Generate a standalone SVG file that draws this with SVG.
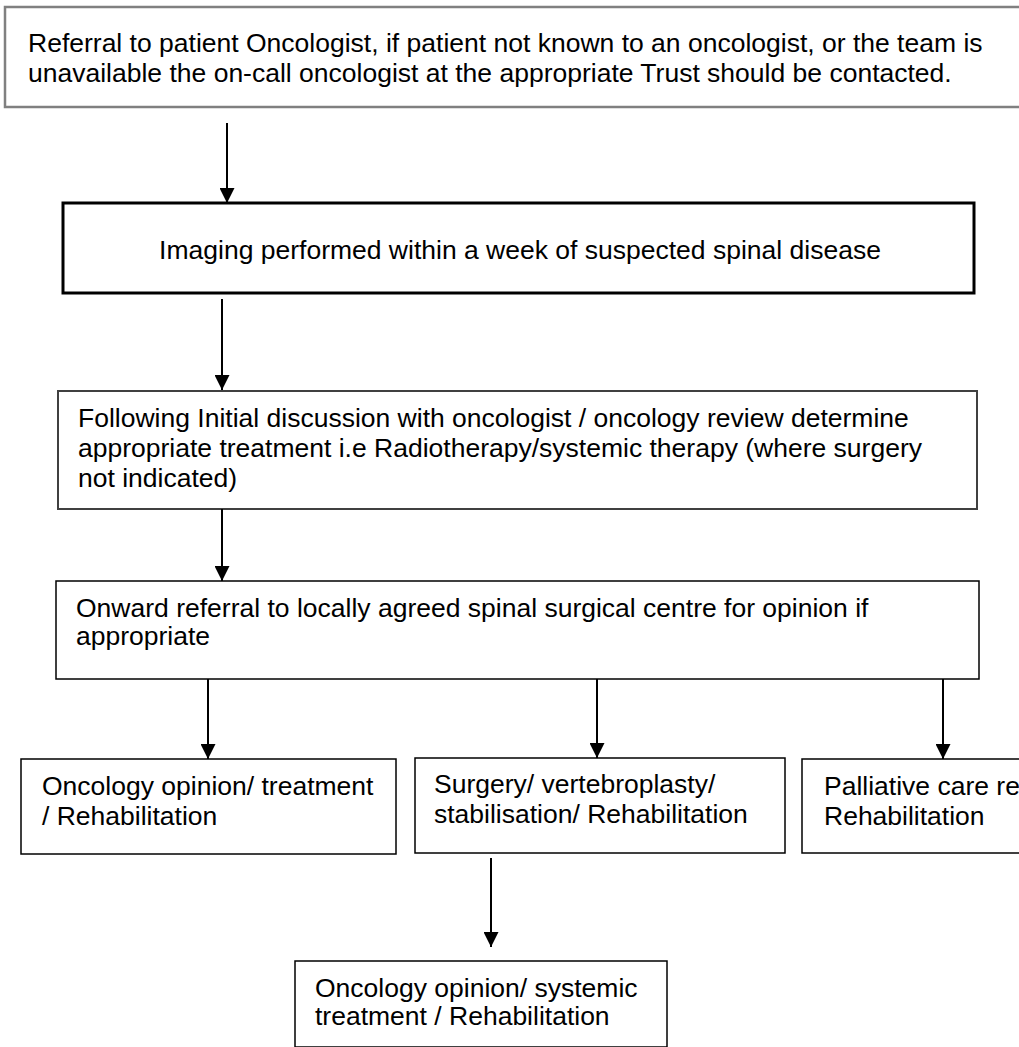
<svg xmlns="http://www.w3.org/2000/svg" width="1019" height="1047" viewBox="0 0 1019 1047">
<defs>
<style>
text{font-family:"Liberation Sans",Arial,sans-serif;font-size:26.5px;fill:#000}
.box{fill:#fff;stroke:#000;stroke-width:1.5}
.conn line{stroke:#000;stroke-width:2}
</style>
<marker id="ah" markerWidth="15" markerHeight="15" refX="15" refY="7.5" orient="auto" markerUnits="userSpaceOnUse">
<path d="M0,0 L15,7.5 L0,15 Z" fill="#000"/>
</marker>
</defs>
<rect width="1019" height="1047" fill="#fff"/>
<g id="n1">
<rect x="5" y="7" width="1030" height="100" fill="#fff" stroke="#808080" stroke-width="2.5"/>
<text x="28" y="52">Referral to patient Oncologist, if patient not known to an oncologist, or the team is</text>
<text x="28" y="82">unavailable the on-call oncologist at the appropriate Trust should be contacted.</text>
</g>
<g id="n2">
<rect x="63" y="203" width="911" height="90" fill="#fff" stroke="#000" stroke-width="3"/>
<text x="520" y="259" text-anchor="middle">Imaging performed within a week of suspected spinal disease</text>
</g>
<g id="n3">
<rect x="58" y="391" width="919" height="118" fill="#fff" stroke="#404040" stroke-width="2"/>
<text x="78" y="427">Following Initial discussion with oncologist / oncology review determine</text>
<text x="78" y="457">appropriate treatment i.e Radiotherapy/systemic therapy (where surgery</text>
<text x="78" y="487">not indicated)</text>
</g>
<g id="n4">
<rect x="56" y="581" width="923" height="98" class="box"/>
<text x="76" y="617">Onward referral to locally agreed spinal surgical centre for opinion if</text>
<text x="76" y="645">appropriate</text>
</g>
<g id="n5">
<rect x="21" y="759" width="375" height="95" class="box"/>
<text x="42" y="795">Oncology opinion/ treatment</text>
<text x="42" y="825">/ Rehabilitation</text>
</g>
<g id="n6">
<rect x="415" y="758" width="370" height="95" class="box"/>
<text x="434" y="793">Surgery/ vertebroplasty/</text>
<text x="434" y="823">stabilisation/ Rehabilitation</text>
</g>
<g id="n7">
<rect x="802" y="759" width="240" height="94" class="box"/>
<text x="824" y="795">Palliative care re</text>
<text x="824" y="825">Rehabilitation</text>
</g>
<g id="n8">
<rect x="295" y="961" width="372" height="86" class="box"/>
<text x="315" y="997">Oncology opinion/ systemic</text>
<text x="315" y="1025">treatment / Rehabilitation</text>
</g>
<g id="connectors" class="conn">
<line x1="227" y1="123" x2="227" y2="203" marker-end="url(#ah)"/>
<line x1="222" y1="299" x2="222" y2="390" marker-end="url(#ah)"/>
<line x1="222" y1="509" x2="222" y2="581" marker-end="url(#ah)"/>
<line x1="208" y1="679" x2="208" y2="759" marker-end="url(#ah)"/>
<line x1="597" y1="679" x2="597" y2="758" marker-end="url(#ah)"/>
<line x1="943" y1="679" x2="943" y2="759" marker-end="url(#ah)"/>
<line x1="491" y1="858" x2="491" y2="947" marker-end="url(#ah)"/>
</g>
</svg>
